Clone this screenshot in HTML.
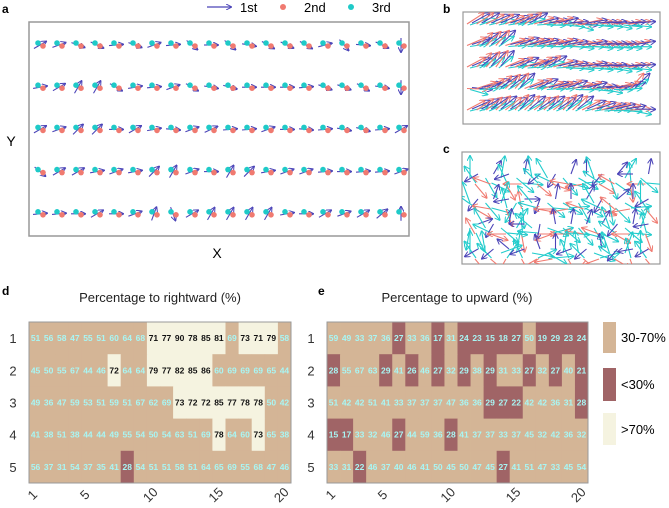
<!DOCTYPE html>
<html><head><meta charset="utf-8">
<style>
html,body{margin:0;padding:0;background:#fff;}
svg{display:block;font-family:"Liberation Sans",Arial,sans-serif;}
</style></head>
<body>
<svg id="fig" width="669" height="508" viewBox="0 0 669 508">
<defs>
<marker id="hb" markerWidth="6" markerHeight="6" refX="5" refY="3" orient="auto" markerUnits="userSpaceOnUse"><path d="M0,0 L6,3 L0,6" fill="none" stroke="#4b44b8" stroke-width="1"/></marker>
<marker id="hr" markerWidth="6" markerHeight="6" refX="5" refY="3" orient="auto" markerUnits="userSpaceOnUse"><path d="M0,0 L6,3 L0,6" fill="none" stroke="#f07a70" stroke-width="1"/></marker>
<marker id="hc" markerWidth="6" markerHeight="6" refX="5" refY="3" orient="auto" markerUnits="userSpaceOnUse"><path d="M0,0 L6,3 L0,6" fill="none" stroke="#22cccc" stroke-width="1"/></marker>
<clipPath id="clipb"><rect x="463" y="12" width="197" height="112"/></clipPath>
<clipPath id="clipc"><rect x="462" y="152" width="198" height="112"/></clipPath>
</defs>
<text x="2" y="13" font-size="12" font-weight="bold">a</text>
<text x="443" y="13" font-size="12" font-weight="bold">b</text>
<text x="443" y="153" font-size="12" font-weight="bold">c</text>
<text x="2" y="295" font-size="12" font-weight="bold">d</text>
<text x="318" y="295" font-size="12" font-weight="bold">e</text>
<g>
<line x1="207" y1="7" x2="231" y2="7" stroke="#4b44b8" stroke-width="1.2" marker-end="url(#hb)"/>
<text x="240" y="12" font-size="13">1st</text>
<circle cx="283" cy="7" r="3" fill="#f07a70"/>
<text x="304" y="12" font-size="13">2nd</text>
<circle cx="351" cy="7" r="3" fill="#1fcac8"/>
<text x="372" y="12" font-size="13">3rd</text>
</g>
<rect x="29" y="22" width="380" height="214" fill="none" stroke="#999" stroke-width="1.5"/>
<text x="217" y="258" font-size="14" text-anchor="middle">X</text>
<text x="11" y="146" font-size="14" text-anchor="middle">Y</text>
<g id="qa"></g>
<rect x="463" y="12" width="197" height="112" fill="none" stroke="#999" stroke-width="1.2"/>
<g id="qb" clip-path="url(#clipb)"></g>
<rect x="462" y="152" width="198" height="112" fill="none" stroke="#999" stroke-width="1.2"/>
<g id="qc" clip-path="url(#clipc)"></g>
<text x="160" y="302" font-size="13" text-anchor="middle" fill="#222">Percentage to rightward (%)</text>
<text x="457" y="302" font-size="13" text-anchor="middle" fill="#222">Percentage to upward (%)</text>
<g id="hd"></g>
<g id="he"></g>
<g>
<rect x="603" y="322" width="13" height="31" fill="#d4b596"/>
<text x="621" y="342" font-size="13">30-70%</text>
<rect x="603" y="368" width="13" height="33" fill="#a06466"/>
<text x="621" y="389" font-size="13">&lt;30%</text>
<rect x="603" y="413" width="13" height="32" fill="#f5f3e0"/>
<text x="621" y="434" font-size="13">&gt;70%</text>
</g>
</svg>
<script>
const NS="http://www.w3.org/2000/svg";
// Panel a: arrow angles (deg, up positive), rows top to bottom
const aRow1=[30,20,-20,-25,5,-20,20,5,-40,0,-40,-10,-30,-25,-30,15,-50,-5,-25,-90];
const aRow2=[10,30,60,60,-30,10,5,20,-30,-10,-15,0,0,0,5,-20,-20,-30,-10,-90];
const aRow3=[30,20,45,45,0,30,10,-5,20,25,5,5,20,0,-5,5,-10,-15,5,30];
const aRow4=[-40,30,30,10,20,10,45,60,20,0,60,45,10,20,20,5,0,5,5,20];
const aRow5=[5,5,0,30,0,20,70,-70,30,60,60,60,60,10,0,30,20,30,40,90];
// Panel b: dominant direction per row (deg), 18 per row
const bRow1=[25,25,20,20,15,20,25,10,5,10,0,-10,5,0,0,-5,0,0];
const bRow2=[15,30,35,40,10,15,10,10,5,10,5,0,5,0,0,0,0,5];
const bRow3=[20,35,40,45,15,20,10,20,25,10,5,0,5,0,0,-5,0,0];
const bRow4=[-10,10,20,30,35,40,15,20,10,10,15,5,10,0,-5,5,10,40];
const bRow5=[20,25,30,35,30,40,35,30,35,30,40,35,20,15,10,10,5,-5];
// Panel c: direction per grid cell (deg), 4 rows x 12 cols
const cRow1=[90,-60,80,-40,100,120,-50,-30,110,-70,60,-40];
const cRow2=[110,-50,70,-120,130,-40,-30,-60,120,-80,-30,90];
const cRow3=[-100,120,-40,60,140,-20,-40,-50,-60,110,-40,70];
const cRow4=[90,100,20,80,-10,-30,80,100,-20,110,70,90];
// Heatmap values
const dRows=[[51,56,58,47,55,51,60,64,68,71,77,90,78,85,81,69,73,71,79,58],[45,50,55,67,44,46,72,64,64,79,77,82,85,86,60,69,69,69,65,44],[49,36,47,59,53,51,59,51,67,62,69,73,72,72,85,77,78,78,50,42],[41,38,51,38,44,44,49,55,54,50,54,63,51,69,78,64,60,73,65,38],[56,37,31,54,37,35,41,28,54,51,51,58,51,64,65,69,55,68,47,46]];
const eRows=[[59,49,33,37,36,27,33,36,17,31,24,23,15,18,27,50,19,29,23,24],[28,55,67,63,29,41,26,46,27,32,29,38,29,31,33,27,32,27,40,21],[51,42,42,51,41,33,37,37,37,47,36,36,29,27,22,42,42,36,31,28],[15,17,33,32,46,27,44,59,36,28,41,37,37,33,37,45,32,42,36,32],[33,31,22,46,37,40,46,41,50,45,50,47,45,27,41,51,47,33,45,54]];
const rowLabels=["1","2","3","4","5"];
const colTicks=[1,5,10,15,20];

function mk(tag,attrs,parent){const e=document.createElementNS(NS,tag);for(const k in attrs)e.setAttribute(k,attrs[k]);parent.appendChild(e);return e;}
const col={b:"#4b44b8",r:"#f07a70",c:"#22cccc"};
function arrow(g,x,y,ang,len,c,m){const t=ang*Math.PI/180;const l=mk("line",{x1:x,y1:y,x2:x+len*Math.cos(t),y2:y-len*Math.sin(t),stroke:c,"stroke-width":1.1,"marker-end":"url(#"+m+")"},g);

return l;}

// Panel a
const qa=document.getElementById('qa');
const aRows=[aRow1,aRow2,aRow3,aRow4,aRow5];
const aX=i=>40+i*19, aY=j=>45+j*42.2;
aRows.forEach((row,j)=>row.forEach((ang,i)=>{
  const x=aX(i),y=aY(j),t=ang*Math.PI/180,L=14;
  const x0=x-L/2*Math.cos(t),y0=y+L/2*Math.sin(t);
  arrow(qa,x0,y0,ang,L,col.b,"hb");
  const d2=mk("circle",{cx:x+3,cy:y+1,r:2.8,fill:"#f07a70"},qa);
  
  
  const d3=mk("circle",{cx:x-2,cy:y-2,r:2.8,fill:"#1fcac8"},qa);
  
  
}));

// Panel b
const qb=document.getElementById('qb');
const bRows=[bRow1,bRow2,bRow3,bRow4,bRow5];
const bX=i=>467+i*9.6, bY=j=>24+j*21.5;
bRows.forEach((row,j)=>row.forEach((ang,i)=>{
  arrow(qb,bX(i),bY(j),ang+8,20,col.r,"hr");
  arrow(qb,bX(i)+3,bY(j)+1,ang-6,18,col.c,"hc");
  arrow(qb,bX(i)+5,bY(j)-1,ang+4,20,col.b,"hb");
}));

// Panel c
const qc=document.getElementById('qc');
const cRows=[cRow1,cRow2,cRow3,cRow4];
const cX=i=>470+i*15.5, cY=j=>178+j*25;
cRows.forEach((row,j)=>row.forEach((ang,i)=>{
  arrow(qc,cX(i),cY(j),ang,22,col.c,"hc");
  arrow(qc,cX(i)+6,cY(j)+5,ang+35,20,col.c,"hc");
  arrow(qc,cX(i)+5,cY(j)+6,ang-140,18,col.r,"hr");
  arrow(qc,cX(i)+8,cY(j)-4,ang+120,15,col.b,"hb");
}));

// Heatmaps
function heat(gid,rows,x0,name){
  const g=document.getElementById(gid);
  const cw=(x0.w)/20, ch=161/5, y0=322;
  const cx=i=>x0.x+i*cw, cy=j=>y0+j*ch;
  rows.forEach((row,j)=>row.forEach((v,i)=>{
    const fill=v<30?"#a06466":(v>70?"#f5f3e0":"#d4b596");
    const r=mk("rect",{x:cx(i),y:cy(j),width:cw+0.4,height:ch+0.4,fill:fill},g);
    
    
    const t=mk("text",{x:cx(i)+cw/2,y:cy(j)+ch/2+3,"font-size":8.5,"font-weight":"bold","text-anchor":"middle",fill:v>70?"#111":"#a8f6f4"},g);
    t.textContent=v;
    
    
  }));
  const fr=mk("rect",{x:x0.x,y:y0,width:x0.w,height:161,fill:"none",stroke:"#999","stroke-width":1},g);
  
  
  rowLabels.forEach((lab,j)=>{
    const t=mk("text",{x:x0.x-16,y:cy(j)+ch/2+5,"font-size":13,"text-anchor":"middle",fill:"#333"},g);
    t.textContent=lab;
    
    
  });
  colTicks.forEach(c=>{
    const px=cx(c-1)+cw/2, py=498;
    const t=mk("text",{x:px,y:py,"font-size":13,"text-anchor":"middle",fill:"#333",transform:"rotate(-45 "+px+" "+py+")"},g);
    t.textContent=c;
    
    
  });
}
heat('hd',dRows,{x:29,w:262},'heatmap-d');
heat('he',eRows,{x:327,w:261},'heatmap-e');
</script>
</body></html>
